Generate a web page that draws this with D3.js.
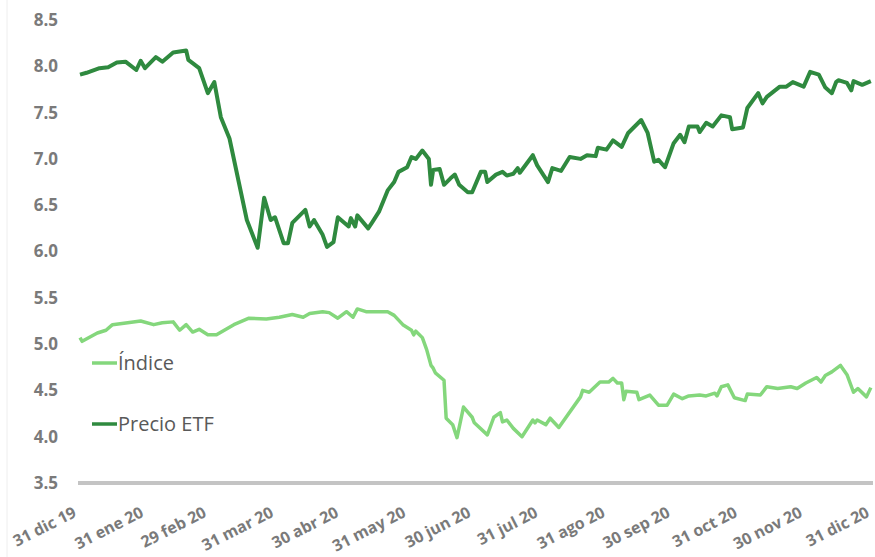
<!DOCTYPE html>
<html>
<head>
<meta charset="utf-8">
<script src="https://cdn.jsdelivr.net/npm/d3@7.9.0/dist/d3.min.js"></script>
<style>
  html, body { margin: 0; padding: 0; background: #fff; }
  svg { display: block; }
</style>
</head>
<body>
<div id="chart"></div>
<script>
// Series: Precio ETF (dark green)
const etfDates = ['2019-12-31','2020-01-03','2020-01-09','2020-01-13','2020-01-17','2020-01-21','2020-01-26','2020-01-28','2020-01-30',
  '2020-02-04','2020-02-07','2020-02-12','2020-02-18','2020-02-19','2020-02-24','2020-02-28','2020-03-02',
  '2020-03-05','2020-03-09','2020-03-17','2020-03-22','2020-03-25','2020-03-28','2020-03-30','2020-04-03',
  '2020-04-05','2020-04-07','2020-04-13','2020-04-15','2020-04-17','2020-04-21','2020-04-23','2020-04-26',
  '2020-04-28','2020-05-03','2020-05-04','2020-05-06','2020-05-07','2020-05-12','2020-05-14','2020-05-17',
  '2020-05-21','2020-05-24','2020-05-26','2020-05-30','2020-06-01','2020-06-03','2020-06-06','2020-06-09',
  '2020-06-10','2020-06-11','2020-06-14','2020-06-16','2020-06-19','2020-06-21','2020-06-23','2020-06-27',
  '2020-06-29','2020-07-03','2020-07-05','2020-07-06','2020-07-10','2020-07-13','2020-07-15','2020-07-18',
  '2020-07-20','2020-07-21','2020-07-27','2020-07-29','2020-08-03','2020-08-05','2020-08-09','2020-08-13',
  '2020-08-18','2020-08-21','2020-08-25','2020-08-26','2020-08-30','2020-09-02','2020-09-06','2020-09-09',
  '2020-09-15','2020-09-18','2020-09-21','2020-09-23','2020-09-26','2020-09-30','2020-10-03','2020-10-05',
  '2020-10-07','2020-10-11','2020-10-12','2020-10-15','2020-10-18','2020-10-22','2020-10-26','2020-10-27',
  '2020-11-01','2020-11-03','2020-11-08','2020-11-10','2020-11-12','2020-11-18','2020-11-21','2020-11-24',
  '2020-11-29','2020-12-02','2020-12-06','2020-12-09','2020-12-12','2020-12-14','2020-12-15','2020-12-19',
  '2020-12-21','2020-12-22','2020-12-26','2020-12-30'];
const etfValues = [7.91,7.93,7.98,7.99,8.04,8.05,7.96,8.06,7.98,
  8.10,8.05,8.15,8.17,8.07,7.98,7.71,7.83,
  7.45,7.22,6.34,6.04,6.58,6.34,6.37,6.09,
  6.09,6.31,6.45,6.27,6.34,6.18,6.05,6.10,
  6.37,6.27,6.36,6.27,6.39,6.25,6.32,6.43,
  6.66,6.75,6.86,6.91,7.02,7.00,7.09,7.00,
  6.72,6.88,6.89,6.72,6.79,6.83,6.72,6.64,
  6.64,6.86,6.86,6.75,6.83,6.86,6.82,6.84,
  6.90,6.85,7.04,6.93,6.75,6.90,6.87,7.02,
  7.00,7.04,7.03,7.12,7.10,7.20,7.13,7.28,
  7.42,7.28,6.97,6.99,6.91,7.17,7.26,7.18,
  7.35,7.35,7.29,7.39,7.35,7.47,7.45,7.32,
  7.34,7.55,7.71,7.60,7.67,7.78,7.78,7.83,
  7.78,7.94,7.91,7.77,7.71,7.83,7.85,7.82,
  7.74,7.84,7.80,7.84];

// Series: Índice (light green)
const indexDates = ['2019-12-31','2020-01-01','2020-01-08','2020-01-12','2020-01-15','2020-01-22','2020-01-28',
  '2020-02-03','2020-02-07','2020-02-12','2020-02-15','2020-02-18','2020-02-21','2020-02-24','2020-02-28',
  '2020-03-03','2020-03-11','2020-03-18','2020-03-26','2020-04-01','2020-04-07','2020-04-12','2020-04-15',
  '2020-04-21','2020-04-24','2020-04-28','2020-05-02','2020-05-05','2020-05-07','2020-05-11','2020-05-21',
  '2020-05-24','2020-05-28','2020-06-01','2020-06-02','2020-06-03','2020-06-06','2020-06-08','2020-06-10',
  '2020-06-11','2020-06-12','2020-06-16','2020-06-17','2020-06-20','2020-06-22','2020-06-25','2020-06-29',
  '2020-06-30','2020-07-06','2020-07-09','2020-07-12','2020-07-13','2020-07-15','2020-07-18','2020-07-22',
  '2020-07-27','2020-07-28','2020-07-29','2020-08-02','2020-08-04','2020-08-08','2020-08-18','2020-08-19',
  '2020-08-22','2020-08-27','2020-08-31','2020-09-02','2020-09-04','2020-09-06','2020-09-07','2020-09-08',
  '2020-09-13','2020-09-14','2020-09-19','2020-09-23','2020-09-27','2020-09-30','2020-10-04','2020-10-07',
  '2020-10-12','2020-10-15','2020-10-19','2020-10-20','2020-10-22','2020-10-25','2020-10-28','2020-11-02',
  '2020-11-03','2020-11-09','2020-11-12','2020-11-17','2020-11-23','2020-11-26','2020-11-30','2020-12-05',
  '2020-12-07','2020-12-09','2020-12-12','2020-12-16','2020-12-19','2020-12-22','2020-12-24','2020-12-28',
  '2020-12-30'];
const indexValues = [5.07,5.03,5.12,5.15,5.21,5.23,5.25,
  5.21,5.23,5.24,5.15,5.21,5.13,5.16,5.10,
  5.10,5.21,5.28,5.27,5.29,5.32,5.29,5.33,
  5.35,5.34,5.28,5.35,5.29,5.38,5.35,5.35,
  5.31,5.21,5.15,5.10,5.14,5.07,4.94,4.77,
  4.74,4.69,4.61,4.20,4.13,3.99,4.32,4.21,
  4.15,4.02,4.21,4.26,4.16,4.18,4.09,4.00,
  4.18,4.15,4.18,4.13,4.20,4.10,4.43,4.50,
  4.48,4.59,4.59,4.63,4.58,4.58,4.40,4.49,
  4.48,4.40,4.45,4.34,4.34,4.46,4.41,4.44,
  4.45,4.44,4.47,4.44,4.54,4.56,4.42,4.39,
  4.46,4.45,4.54,4.52,4.54,4.52,4.58,4.64,
  4.59,4.66,4.70,4.77,4.67,4.48,4.52,4.43,
  4.53];

const yTicks = [3.5, 4.0, 4.5, 5.0, 5.5, 6.0, 6.5, 7.0, 7.5, 8.0, 8.5];
const xTickDates = ['2019-12-31','2020-01-31','2020-02-29','2020-03-31','2020-04-30','2020-05-31',
  '2020-06-30','2020-07-31','2020-08-31','2020-09-30','2020-10-31','2020-11-30','2020-12-31'];
const xTickLabels = ['31 dic 19','31 ene 20','29 feb 20','31 mar 20','30 abr 20','31 may 20',
  '30 jun 20','31 jul 20','31 ago 20','30 sep 20','31 oct 20','30 nov 20','31 dic 20'];
const legendNames = ['Índice', 'Precio ETF'];

const width = 875, height = 557;
const parse = d3.timeParse('%Y-%m-%d');
const darkGreen = '#2f8a3f';
const lightGreen = '#84d77c';

const svg = d3.select('#chart').append('svg')
  .attr('width', width)
  .attr('height', height);

// faint frame edge on the left
svg.append('line')
  .attr('x1', 7).attr('x2', 7).attr('y1', 0).attr('y2', height)
  .attr('stroke', '#eeeeee').attr('stroke-width', 1);

const x = d3.scaleTime()
  .domain([parse('2019-12-31'), parse('2020-12-31')])
  .range([80, 873]);

const y = d3.scaleLinear()
  .domain([3.5, 8.5])
  .range([483, 20]);

// y axis labels
const yAxis = d3.axisLeft(y)
  .tickValues(yTicks)
  .tickFormat(d3.format('.1f'))
  .tickSize(0)
  .tickPadding(0);

svg.append('g')
  .attr('class', 'y-axis')
  .attr('transform', 'translate(58,0)')
  .call(yAxis)
  .call(g => g.select('.domain').remove())
  .call(g => g.selectAll('text')
    .attr('fill', '#7a7a7a')
    .style('font-family', '"Open Sans", sans-serif')
    .style('font-weight', 'bold')
    .style('font-size', '17px'));

// x axis: thick grey base line and rotated labels
const xAxis = d3.axisBottom(x)
  .tickValues(xTickDates.map(parse))
  .tickFormat((d, i) => xTickLabels[i])
  .tickSize(0)
  .tickPadding(0);

const gx = svg.append('g')
  .attr('class', 'x-axis')
  .attr('transform', `translate(0,${y(3.5)})`)
  .call(xAxis);

gx.select('.domain')
  .attr('d', `M${x(parse('2019-12-31')) - 2},0H${x(parse('2020-12-31'))}`)
  .attr('stroke', '#c4c4c4')
  .attr('stroke-width', 4);

gx.selectAll('.tick text')
  .attr('fill', '#7a7a7a')
  .attr('text-anchor', 'end')
  .attr('dy', null)
  .attr('y', null)
  .attr('transform', 'translate(-3,33) rotate(-27)')
  .style('font-family', '"Open Sans", sans-serif')
  .style('font-weight', 'bold')
  .style('font-size', '16px');

// lines
const line = d3.line()
  .x(d => x(d.date))
  .y(d => y(d.value));

const etf = etfDates.map((d, i) => ({ date: parse(d), value: etfValues[i] }));
const idx = indexDates.map((d, i) => ({ date: parse(d), value: indexValues[i] }));

svg.append('path')
  .datum(idx)
  .attr('fill', 'none')
  .attr('stroke', lightGreen)
  .attr('stroke-width', 3.5)
  .attr('stroke-linejoin', 'round')
  .attr('d', line);

svg.append('path')
  .datum(etf)
  .attr('fill', 'none')
  .attr('stroke', darkGreen)
  .attr('stroke-width', 4)
  .attr('stroke-linejoin', 'round')
  .attr('d', line);

// legend
const legendColors = [lightGreen, darkGreen];
const legendY = [363, 424];
const legend = svg.append('g').attr('class', 'legend');
legendNames.forEach((name, i) => {
  legend.append('line')
    .attr('x1', 92).attr('x2', 117)
    .attr('y1', legendY[i]).attr('y2', legendY[i])
    .attr('stroke', legendColors[i])
    .attr('stroke-width', 3.5);
  legend.append('text')
    .attr('x', 118)
    .attr('y', legendY[i] + 7)
    .attr('fill', '#595959')
    .style('font-family', '"Open Sans", sans-serif')
    .style('font-size', '20px')
    .text(name);
});
</script>
</body>
</html>
